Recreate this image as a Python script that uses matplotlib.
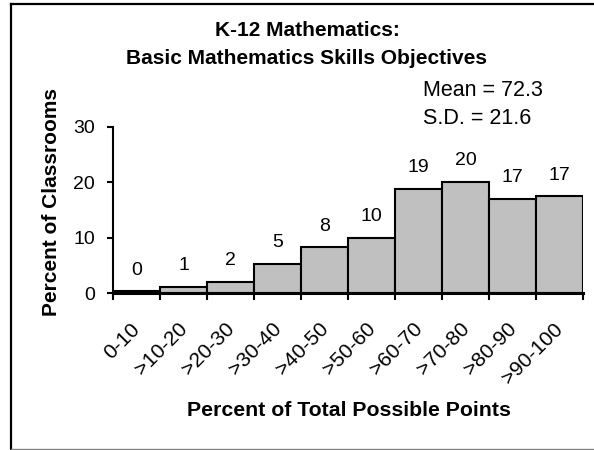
import matplotlib
matplotlib.use('Agg')
import matplotlib.pyplot as plt
from matplotlib.lines import Line2D
import matplotlib.transforms as mtransforms
import numpy as np

plt.rcParams['font.family'] = ['Liberation Sans', 'DejaVu Sans']

# data
bins = ['0-10', '>10-20', '>20-30', '>30-40', '>40-50',
        '>50-60', '>60-70', '>70-80', '>80-90', '>90-100']
pct = [0.3, 1.15, 2.0, 5.3, 8.3, 10.0, 18.85, 20.1, 17.0, 17.5]
pct_labels = ['0', '1', '2', '5', '8', '10', '19', '20', '17', '17']
y_ticks = [0, 10, 20, 30]
mean_txt = 'Mean = 72.3'
sd_txt = 'S.D. = 21.6'

W, H = 594, 450
fig = plt.figure(figsize=(W / 100, H / 100), dpi=100)

# frame around the chart area
fig.add_artist(Line2D([11 / W, 11 / W], [0, 1 - 4 / H], color='black', lw=1.6))
fig.add_artist(Line2D([11 / W, 1], [1 - 4 / H, 1 - 4 / H], color='black', lw=1.6))
fig.add_artist(Line2D([11 / W, 1], [1 / H, 1 / H], color='#808080', lw=1))

ax = fig.add_axes([113 / W, (H - 293) / H, 470 / W, 166 / H])
x = np.arange(len(bins))
ax.bar(x, pct, width=1.0, align='edge', color='#c0c0c0',
       edgecolor='black', linewidth=1.5)

for xi, v, lab in zip(x, pct, pct_labels):
    ax.annotate(lab, (xi + 0.5, v), xytext=(0, 21), textcoords='offset pixels',
                ha='center', va='center', fontsize=14)

ax.set_xlim(0, len(bins))
ax.set_ylim(0, 30)
for s in ['top', 'right']:
    ax.spines[s].set_visible(False)
ax.spines['left'].set_linewidth(1.5)
ax.spines['bottom'].set_linewidth(2.2)

ax.set_yticks(y_ticks)
ax.tick_params(axis='y', length=4.5, width=1.5, pad=8.5, labelsize=14)

ax.set_xticks(np.arange(len(bins) + 1))
ax.set_xticklabels([])
ax.set_xticks(x + 0.5, minor=True)
ax.set_xticklabels(bins, minor=True, rotation=45, ha='right', va='top',
                   rotation_mode='anchor', fontsize=15)
ax.tick_params(axis='x', which='major', length=5, width=1.5, direction='out')
ax.tick_params(axis='x', which='minor', length=0, pad=19)
shift = mtransforms.ScaledTranslation(-6 / 100, 0, fig.dpi_scale_trans)
for lbl in ax.get_xticklabels(minor=True):
    lbl.set_transform(lbl.get_transform() + shift)

fig.text(307 / W, 1 - 30 / H, 'K-12 Mathematics:', ha='center', va='center',
         fontsize=15, fontweight='bold')
fig.text(307 / W, 1 - 58 / H, 'Basic Mathematics Skills Objectives',
         ha='center', va='center', fontsize=15, fontweight='bold')
fig.text(423 / W, 1 - 91 / H, mean_txt, ha='left', va='center', fontsize=15.5)
fig.text(423 / W, 1 - 118 / H, sd_txt, ha='left', va='center', fontsize=15.5)

fig.text(52 / W, 1 - 202 / H, 'Percent of Classrooms', rotation=90,
         ha='center', va='center', fontsize=15, fontweight='bold')
fig.text(349 / W, 1 - 411 / H, 'Percent of Total Possible Points',
         ha='center', va='center', fontsize=15.3, fontweight='bold')

fig.savefig('out.png', dpi=100)
